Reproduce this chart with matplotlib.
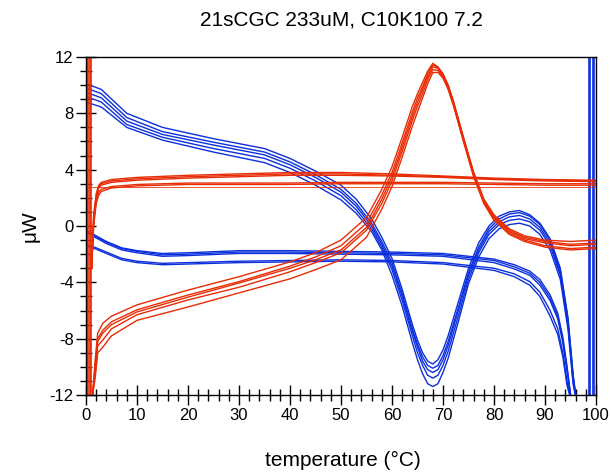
import matplotlib
matplotlib.use("Agg")
import matplotlib.pyplot as plt
from matplotlib.ticker import MultipleLocator

# Heating scans (red): peak family
red_peak_t = [1.3, 1.8, 2.3, 3.3, 5, 10, 20, 30, 40, 45, 50, 55, 58, 60, 62, 64, 65, 66, 67, 68,
              69, 70, 71, 72, 74, 76, 78, 80, 83, 86, 90, 95, 100]
red_peak_scans = [
    [-12, -9.5, -7.6, -6.9, -6.4, -5.6, -4.55, -3.6, -2.55, -1.9, -1.0, 0.6, 2.6, 4.2, 6.3, 8.5, 9.4, 10.2,
     11.0, 11.55, 11.3, 10.8, 10.0, 8.9, 6.3, 3.8, 1.9, 0.8, -0.2, -0.7, -1.0, -1.1, -1.0],
    [-12, -9.9, -8.0, -7.4, -6.8, -5.95, -4.9, -3.95, -2.85, -2.2, -1.4, 0.2, 2.2, 3.8, 5.9, 8.1, 9.1, 9.9,
     10.8, 11.45, 11.25, 10.8, 10.0, 8.9, 6.3, 3.8, 1.9, 0.7, -0.3, -0.8, -1.1, -1.3, -1.2],
    [-12, -10.1, -8.2, -7.6, -7.0, -6.1, -5.05, -4.05, -3.0, -2.4, -1.7, -0.1, 1.9, 3.5, 5.6, 7.8, 8.8, 9.7,
     10.6, 11.3, 11.2, 10.7, 9.9, 8.8, 6.2, 3.7, 1.8, 0.6, -0.4, -0.9, -1.2, -1.4, -1.3],
    [-12, -10.4, -8.5, -8.1, -7.3, -6.3, -5.25, -4.35, -3.25, -2.6, -1.9, -0.3, 1.6, 3.2, 5.3, 7.5, 8.5, 9.4,
     10.4, 11.1, 11.05, 10.6, 9.8, 8.7, 6.1, 3.6, 1.7, 0.5, -0.5, -1.0, -1.4, -1.6, -1.5],
    [-12, -10.8, -9.0, -8.6, -7.8, -6.7, -5.75, -4.75, -3.75, -3.1, -2.4, -0.8, 1.2, 2.8, 4.9, 7.1, 8.1, 9.1,
     10.1, 10.9, 10.9, 10.5, 9.7, 8.6, 6.0, 3.5, 1.6, 0.4, -0.6, -1.1, -1.5, -1.7, -1.6],
]

# Heating scans (red): flat family
red_flat_t = [1.1, 1.5, 2.0, 2.5, 3, 5, 10, 20, 30, 40, 50, 60, 70, 80, 90, 100]
red_flat_scans = [
    [-3, 0.8, 2.3, 2.9, 3.1, 3.3, 3.45, 3.6, 3.7, 3.8, 3.8, 3.7, 3.55, 3.4, 3.3, 3.25],
    [-3, 0.6, 2.1, 2.8, 3.0, 3.2, 3.35, 3.5, 3.6, 3.7, 3.7, 3.6, 3.5, 3.35, 3.25, 3.2],
    [-3, 0.4, 2.0, 2.7, 2.9, 3.1, 3.25, 3.4, 3.5, 3.6, 3.6, 3.55, 3.45, 3.3, 3.2, 3.15],
    [-3, 0.2, 1.8, 2.4, 2.6, 2.8, 2.95, 3.05, 3.05, 3.05, 3.1, 3.1, 3.1, 3.05, 3.0, 3.0],
    [-3, 0.0, 1.6, 2.2, 2.45, 2.7, 2.85, 2.95, 2.95, 2.95, 3.0, 3.0, 3.0, 2.95, 2.9, 2.9],
]
red_ref_t = [0, 100]
red_ref_y = [2.8, 2.8]
red_vert_x = [0.15, 0.45, 0.75, 1.0]

# Cooling scans (blue): big family
blue_big_t = [0, 3, 8, 15, 25, 35, 40, 45, 50, 53, 56, 58, 60, 62, 64, 65, 66, 67, 68, 69, 70, 71, 73,
              75, 77, 79, 81, 83, 85, 87, 89, 91, 93, 94.5, 95.5, 96.2]
blue_big_scans = [
    [10.1, 9.7, 8.0, 7.0, 6.2, 5.5, 4.8, 3.9, 2.9, 1.9, 0.5, -0.8, -2.3, -4.5, -7.0, -8.1, -9.0, -9.6, -9.8,
     -9.5, -8.8, -7.8, -5.4, -3.0, -1.2, 0.0, 0.7, 1.0, 1.1, 0.8, 0.2, -0.9, -3.0, -6.5, -10.5, -12.5],
    [9.8, 9.4, 7.7, 6.7, 5.95, 5.25, 4.55, 3.65, 2.6, 1.6, 0.2, -1.1, -2.6, -4.8, -7.3, -8.4, -9.3, -9.9,
     -10.1, -9.9, -9.2, -8.2, -5.8, -3.3, -1.5, -0.2, 0.5, 0.85, 0.95, 0.7, 0.1, -1.0, -3.1, -6.6, -10.6, -12.5],
    [9.5, 9.1, 7.45, 6.5, 5.75, 5.05, 4.35, 3.45, 2.4, 1.4, 0.0, -1.3, -2.85, -5.0, -7.5, -8.6, -9.6, -10.2,
     -10.4, -10.2, -9.5, -8.5, -6.0, -3.5, -1.7, -0.4, 0.3, 0.65, 0.75, 0.5, -0.1, -1.2, -3.3, -6.8, -10.8,
     -12.5],
    [9.2, 8.8, 7.2, 6.3, 5.5, 4.8, 4.1, 3.2, 2.15, 1.15, -0.2, -1.5, -3.1, -5.3, -7.8, -9.0, -9.9, -10.6,
     -10.8, -10.6, -9.9, -8.9, -6.4, -3.8, -1.9, -0.6, 0.1, 0.4, 0.5, 0.3, -0.3, -1.4, -3.5, -7.0, -11.0, -12.5],
    [8.8, 8.45, 7.0, 6.1, 5.25, 4.5, 3.8, 2.9, 1.85, 0.9, -0.4, -1.7, -3.5, -5.7, -8.3, -9.5, -10.5, -11.2,
     -11.4, -11.2, -10.4, -9.4, -6.8, -4.1, -2.2, -0.9, -0.2, 0.1, 0.2, 0.0, -0.6, -1.7, -3.8, -7.3, -11.2,
     -12.5],
]

# Cooling scans (blue): flat family
blue_flat_t = [0, 2, 4, 7, 10, 15, 20, 30, 40, 50, 60, 70, 80, 84, 87, 89, 91, 92.5, 93.5, 94.3, 95.2]
blue_flat_scans = [
    [-0.3, -0.7, -1.1, -1.55, -1.75, -1.95, -1.9, -1.75, -1.75, -1.8, -1.85, -1.95, -2.35, -2.75, -3.2,
     -3.8, -4.9, -6.2, -7.9, -9.9, -12.5],
    [-0.35, -0.75, -1.15, -1.6, -1.8, -2.05, -2.0, -1.85, -1.85, -1.9, -1.95, -2.05, -2.45, -2.9, -3.35,
     -4.0, -5.1, -6.4, -8.1, -10.1, -12.5],
    [-0.45, -0.85, -1.25, -1.7, -1.9, -2.15, -2.1, -1.95, -1.95, -2.0, -2.05, -2.15, -2.6, -3.05, -3.5,
     -4.2, -5.3, -6.6, -8.3, -10.3, -12.5],
    [-1.3, -1.55, -1.85, -2.3, -2.5, -2.65, -2.6, -2.5, -2.45, -2.4, -2.45, -2.6, -3.0, -3.4, -3.95,
     -4.7, -6.0, -7.3, -9.0, -11.0, -12.5],
    [-1.4, -1.65, -1.95, -2.4, -2.6, -2.75, -2.7, -2.6, -2.55, -2.5, -2.55, -2.7, -3.15, -3.6, -4.2,
     -5.0, -6.4, -7.7, -9.3, -11.3, -12.5],
]
blue_vert_x = [98.6, 98.9, 99.4, 99.7]

RED = "#e82c05"
BLUE = "#0c2fdc"

plt.rcParams["font.family"] = ["Liberation Sans", "DejaVu Sans"]
plt.rcParams["axes.unicode_minus"] = False

fig = plt.figure(figsize=(6.11, 4.73), dpi=100)
ax = fig.add_axes([86 / 611, 1 - 395 / 473, 510 / 611, 338 / 473])

# Cooling
for scan in blue_big_scans:
    ax.plot(blue_big_t, scan, color=BLUE, lw=1.0)
for scan in blue_flat_scans:
    ax.plot(blue_flat_t, scan, color=BLUE, lw=1.0)
for x in blue_vert_x:
    ax.axvline(x, color=BLUE, lw=1.2)

# Heating
ax.plot(red_ref_t, red_ref_y, color=RED, lw=0.7, alpha=0.8)
for scan in red_flat_scans:
    ax.plot(red_flat_t, scan, color=RED, lw=1.0)
for scan in red_peak_scans:
    ax.plot(red_peak_t, scan, color=RED, lw=1.0)
for x in red_vert_x:
    ax.axvline(x, color=RED, lw=1.2)

ax.set_xlim(0, 100)
ax.set_ylim(-12, 12)
ax.xaxis.set_major_locator(MultipleLocator(10))
ax.xaxis.set_minor_locator(MultipleLocator(2))
ax.yaxis.set_major_locator(MultipleLocator(4))
ax.yaxis.set_minor_locator(MultipleLocator(1))
ax.tick_params(which="major", direction="inout", length=14, width=1.0, labelsize=12, pad=2)
ax.tick_params(which="minor", direction="inout", length=8, width=1.0)
for s in ax.spines.values():
    s.set_linewidth(1.0)

# Titles
fig.text(341 / 611, 1 - 20 / 473, "21sCGC 233uM, C10K100 7.2", ha="center", va="center", fontsize=15)
fig.text(343 / 611, 1 - 460 / 473, "temperature (°C)", ha="center", va="center", fontsize=15)
fig.text(30 / 611, 1 - 226 / 473, "μW", ha="center", va="center", rotation=90, fontsize=15)

fig.savefig("out.png", dpi=100)
